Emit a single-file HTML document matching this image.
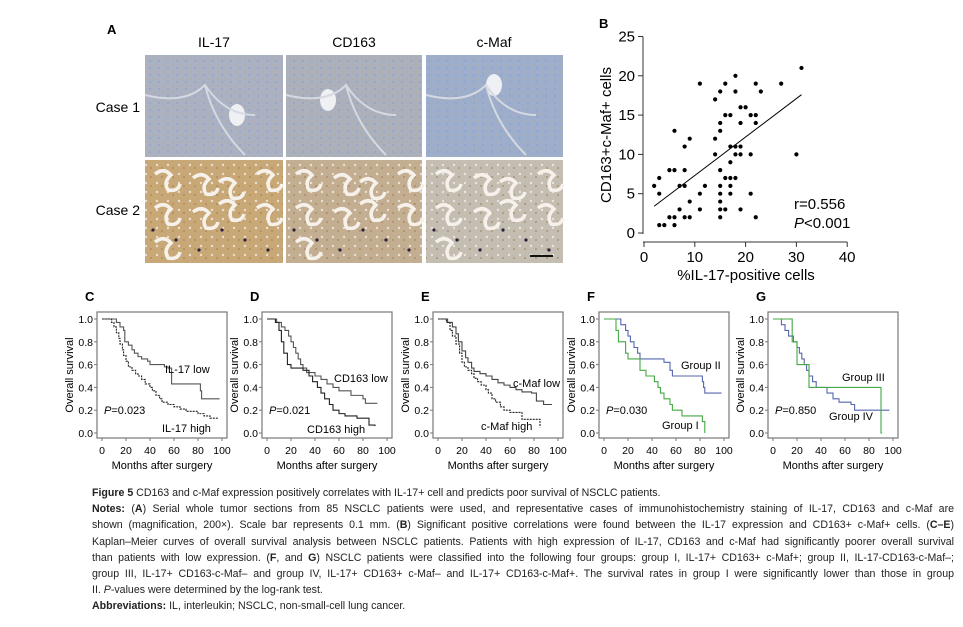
<!DOCTYPE html>
<html><head><meta charset="utf-8"><style>
body{margin:0;background:#fff;width:963px;height:627px;overflow:hidden;font-family:"Liberation Sans",Arial,sans-serif;}
#cap{position:absolute;left:92px;top:485px;width:862px;font-size:10.6px;line-height:16.2px;color:#222;}
#cap div{white-space:nowrap;}
#cap .j{text-align:justify;text-align-last:justify;}
</style></head><body>
<svg id="fig" width="963" height="627" style="position:absolute;left:0;top:0" font-family="Liberation Sans, Arial, sans-serif">
<defs>
<pattern id="pt1" width="9" height="7" patternUnits="userSpaceOnUse"><circle cx="2" cy="2" r="1" fill="#c2a88a" opacity="0.6"/><circle cx="6" cy="5" r="1" fill="#8d9bbb" opacity="0.6"/></pattern>
<pattern id="pt2" width="11" height="9" patternUnits="userSpaceOnUse"><circle cx="3" cy="3" r="1.2" fill="#f2ece2" opacity="0.8"/><circle cx="8" cy="6" r="1" fill="#9c7a4a" opacity="0.6"/></pattern>
</defs>
<g id="panelA">
<text x="107" y="34" font-size="13" font-weight="bold">A</text>
<text x="214" y="47" font-size="14" text-anchor="middle">IL-17</text>
<text x="354" y="47" font-size="14" text-anchor="middle">CD163</text>
<text x="494" y="47" font-size="14" text-anchor="middle">c-Maf</text>
<text x="140" y="112" font-size="14" text-anchor="end">Case 1</text>
<text x="140" y="215" font-size="14" text-anchor="end">Case 2</text>
</g>
<g id="B"></g>
<g id="KM"></g>
</svg>
<div id="cap">
<div><b>Figure 5</b> CD163 and c-Maf expression positively correlates with IL-17+ cell and predicts poor survival of NSCLC patients.</div>
<div class="j"><b>Notes:</b> (<b>A</b>) Serial whole tumor sections from 85 NSCLC patients were used, and representative cases of immunohistochemistry staining of IL-17, CD163 and c-Maf are</div>
<div class="j">shown (magnification, 200×). Scale bar represents 0.1 mm. (<b>B</b>) Significant positive correlations were found between the IL-17 expression and CD163+ c-Maf+ cells. (<b>C–E</b>)</div>
<div class="j">Kaplan–Meier curves of overall survival analysis between NSCLC patients. Patients with high expression of IL-17, CD163 and c-Maf had significantly poorer overall survival</div>
<div class="j">than patients with low expression. (<b>F</b>, and <b>G</b>) NSCLC patients were classified into the following four groups: group I, IL-17+ CD163+ c-Maf+; group II, IL-17-CD163-c-Maf–;</div>
<div class="j">group III, IL-17+ CD163-c-Maf– and group IV, IL-17+ CD163+ c-Maf– and IL-17+ CD163-c-Maf+. The survival rates in group I were significantly lower than those in group</div>
<div>II. <i>P</i>-values were determined by the log-rank test.</div>
<div><b>Abbreviations:</b> IL, interleukin; NSCLC, non-small-cell lung cancer.</div>
</div>
<script>
// ---- Panel B data ----
const ilPct=[2,3,3,3,4,5,6,5,6,6,6,7,7,8,8,8,8,9,9,9,11,11,11,12,14,14,14,15,15,15,15,15,15,15,15,15,16,16,16,16,17,17,17,17,17,17,18,18,18,18,18,19,19,19,19,19,20,21,21,21,22,22,22,22,23,27,30,31];
const cdMaf=[6,7,5,1,1,8,8,2,2,1,13,3,6,6,11,8,2,2,12,4,19,5,3,6,17,12,10,18,14,13,8,6,5,4,3,2,19,15,7,3,15,11,9,7,6,5,20,18,11,10,7,16,14,11,10,3,16,15,10,5,19,15,14,2,18,19,10,21];
const fitLine=[[2,3.4],[31,17.6]];
const bXTicks=[0,10,20,30,40];
const bYTicks=[0,5,10,15,20,25];
// ---- KM data ----
const cLowT=[0,12,15,18,19,22,25,27,30,33,38,40,52,55,58,82,83,98];
const cLowS=[1,.97,.93,.9,.8,.77,.73,.7,.67,.65,.63,.6,.58,.57,.43,.37,.3,.3];
const cHighT=[0,8,10,12,14,15,17,18,20,22,25,28,30,33,36,40,42,45,48,50,55,60,65,70,80,85,90,97];
const cHighS=[1,.97,.93,.88,.83,.78,.73,.68,.63,.58,.55,.52,.5,.47,.43,.4,.37,.33,.3,.27,.25,.23,.21,.19,.17,.15,.13,.13];
const dLowT=[0,8,12,15,18,20,22,24,26,28,30,33,40,45,50,55,60,70,80,82,92];
const dLowS=[1,.97,.93,.9,.85,.8,.75,.7,.65,.6,.57,.53,.5,.47,.43,.4,.37,.33,.3,.26,.26];
const dHighT=[0,7,10,12,14,17,20,30,35,38,42,45,48,52,55,60,65,75,85,90];
const dHighS=[1,.97,.9,.8,.7,.6,.57,.55,.5,.45,.4,.35,.3,.25,.2,.17,.15,.13,.07,.06];
const eLowT=[0,8,12,15,17,20,23,25,28,30,35,40,45,50,55,60,65,70,78,82,88,95];
const eLowS=[1,.97,.93,.87,.8,.72,.66,.62,.57,.54,.52,.5,.47,.44,.42,.4,.38,.36,.35,.28,.25,.25];
const eHighT=[0,7,10,12,15,18,20,22,25,28,30,33,36,40,42,45,48,52,55,60,70,82,85];
const eHighS=[1,.97,.9,.85,.78,.7,.62,.58,.55,.52,.48,.45,.42,.38,.35,.3,.27,.23,.2,.18,.12,.12,.05];
const fIIT=[0,12,14,18,20,22,25,28,30,50,55,57,80,82,83,84,98];
const fIIS=[1,1,.95,.9,.85,.8,.75,.7,.65,.62,.55,.5,.5,.45,.4,.35,.35];
const fIT=[0,8,10,12,18,20,30,35,42,45,47,50,55,57,65,82,84];
const fIS=[1,1,.9,.8,.7,.65,.55,.5,.45,.4,.35,.3,.25,.2,.15,.1,0];
const gIIIT=[0,16,20,30,90,91];
const gIIIS=[1,.8,.6,.4,0,0];
const gIVT=[0,5,7,10,13,17,20,22,24,26,28,30,33,36,45,50,55,65,68,97];
const gIVS=[1,1,.95,.9,.85,.8,.75,.7,.65,.6,.55,.5,.45,.4,.35,.3,.27,.25,.2,.2];
const kmXTicks=[0,20,40,60,80,100];
const kmYTicks=[0,0.2,0.4,0.6,0.8,1.0];

const NS='http://www.w3.org/2000/svg';
function mk(parent,tag,attrs,txt){const e=document.createElementNS(NS,tag);for(const k in attrs)e.setAttribute(k,attrs[k]);if(txt!==undefined)e.textContent=txt;parent.appendChild(e);return e;}

// ---- Panel A tiles ----
const A=document.getElementById('panelA');
const tileX=[145,286,426],tileW=[138,136,137],tileY=[55,160],tileH=[102,103];
const tileNames=['il17','cd163','cmaf'];
for(let r=0;r<2;r++)for(let c=0;c<3;c++){
  const base=r===0?['#a9b1c3','#abb0bd','#9caecb'][c]:['#c9a878','#c4ae92','#c4bdb2'][c];
  const t=mk(A,'rect',{x:tileX[c],y:tileY[r],width:tileW[c],height:tileH[r],fill:base});
  
  
  mk(A,'rect',{x:tileX[c],y:tileY[r],width:tileW[c],height:tileH[r],fill:r===0?'url(#pt1)':'url(#pt2)'});
  const x=tileX[c],y=tileY[r];
  if(r===1){for(let i=0;i<9;i++){const px=x+10+(i%4)*32+(i%2)*6,py=y+14+Math.floor(i/4)*30+(i%3)*4;
      mk(A,'path',{d:`M${px} ${py} q9 -7 16 1 q-8 7 -3 15 q10 2 12 -6`,stroke:'#f6f1ea','stroke-width':3.5,fill:'none'});}
    for(let i=0;i<6;i++)mk(A,'circle',{cx:x+8+i*23,cy:y+70+(i%3)*10,r:1.6,fill:'#2a2440'});}
  else{mk(A,'ellipse',{cx:x+[92,42,68][c],cy:y+[60,45,30][c],rx:8,ry:11,fill:'#eef0f3'});
    mk(A,'path',{d:`M${x} ${y+40} q40 10 60 -10 q20 30 50 30 M${x+60} ${y+30} q10 40 40 70`,stroke:'#d5d9e2','stroke-width':2,fill:'none'});}
}
mk(A,'line',{x1:530,y1:256,x2:553,y2:256,stroke:'#111','stroke-width':2});

// ---- Panel B ----
const B=document.getElementById('B');
const bx=v=>644+v*5.08, by=v=>233-v*7.86;
mk(B,'text',{x:599,y:28,'font-size':13,'font-weight':'bold'},'B');
const yAx=mk(B,'line',{x1:643,y1:by(25),x2:643,y2:by(0)+1,stroke:'#333'});

const xAx=mk(B,'line',{x1:643,y1:242,x2:bx(40),y2:242,stroke:'#333'});

bYTicks.forEach(v=>{mk(B,'line',{x1:638,y1:by(v),x2:643,y2:by(v),stroke:'#333'});
  const t=mk(B,'text',{x:635,y:by(v)+5,'font-size':15,'text-anchor':'end'},v);
  });
bXTicks.forEach(v=>{mk(B,'line',{x1:bx(v),y1:242,x2:bx(v),y2:247,stroke:'#333'});
  const t=mk(B,'text',{x:bx(v),y:262,'font-size':15,'text-anchor':'middle'},v);
  });
const xt=mk(B,'text',{x:746,y:280,'font-size':15,'text-anchor':'middle'},'%IL-17-positive cells');

const yt=mk(B,'text',{x:0,y:0,'font-size':15,'text-anchor':'middle',transform:'translate(611,135) rotate(-90)'},'CD163+c-Maf+ cells');

ilPct.forEach((v,i)=>{const d=mk(B,'circle',{cx:bx(v),cy:by(cdMaf[i]),r:2.1,fill:'#000'});
  });
const fl=mk(B,'line',{x1:bx(fitLine[0][0]),y1:by(fitLine[0][1]),x2:bx(fitLine[1][0]),y2:by(fitLine[1][1]),stroke:'#000','stroke-width':1});

const r1=mk(B,'text',{x:794,y:209,'font-size':15},'r=0.556');
const p1=mk(B,'text',{x:794,y:228,'font-size':15});
mk(p1,'tspan',{'font-style':'italic'},'P');mk(p1,'tspan',{},'<0.001');

// ---- KM panels ----
const KM=document.getElementById('KM');
const panels=[
 {L:'C',fx:97,series:[[cLowT,cLowS,'#555','il17-low'],[cHighT,cHighS,'#222','il17-high']],labels:[['IL-17 low',165,373],['IL-17 high',162,432]],p:'0.023',dash:[null,'2,1']},
 {L:'D',fx:262,series:[[dLowT,dLowS,'#555','cd163-low'],[dHighT,dHighS,'#222','cd163-high']],labels:[['CD163 low',334,382],['CD163 high',307,433]],p:'0.021',dash:[null,null]},
 {L:'E',fx:433,series:[[eLowT,eLowS,'#444','cmaf-low'],[eHighT,eHighS,'#222','cmaf-high']],labels:[['c-Maf low',513,387],['c-Maf high',481,430]],p:null,dash:[null,'2,1']},
 {L:'F',fx:599,series:[[fIIT,fIIS,'#5566b0','group-ii'],[fIT,fIS,'#44a844','group-i']],labels:[['Group II',681,369],['Group I',662,429]],p:'0.030',dash:[null,null]},
 {L:'G',fx:768,series:[[gIVT,gIVS,'#5566b0','group-iv'],[gIIIT,gIIIS,'#44a844','group-iii']],labels:[['Group III',842,381],['Group IV',829,420]],p:'0.850',dash:[null,null]}
];
panels.forEach(P=>{
  const g=mk(KM,'g',{});
  
  
  const x0=P.fx+5,xs=v=>x0+v*1.2,ys=v=>433-v*114;
  mk(g,'text',{x:P.fx-12,y:301,'font-size':13,'font-weight':'bold'},P.L);
  const fr=mk(g,'rect',{x:P.fx,y:312,width:130,height:126,fill:'none',stroke:'#777','stroke-width':1.2});
  
  kmYTicks.forEach(v=>{mk(g,'line',{x1:P.fx-3,y1:ys(v),x2:P.fx,y2:ys(v),stroke:'#777'});
    const t=mk(g,'text',{x:P.fx-4,y:ys(v)+4,'font-size':10.5,'text-anchor':'end'},v.toFixed(1));
    });
  kmXTicks.forEach(v=>{mk(g,'line',{x1:xs(v),y1:438,x2:xs(v),y2:441,stroke:'#777'});
    const t=mk(g,'text',{x:xs(v),y:454,'font-size':10.5,'text-anchor':'middle'},v);
    });
  const xl=mk(g,'text',{x:P.fx+65,y:469,'font-size':11,'text-anchor':'middle'},'Months after surgery');
  
  const yl=mk(g,'text',{x:0,y:0,'font-size':11,'text-anchor':'middle',transform:`translate(${P.fx-24},375) rotate(-90)`},'Overall survival');
  
  P.series.forEach((s,i)=>{const [T,S,col,nm]=s;let d=`M${xs(T[0])} ${ys(S[0])}`;
    for(let k=1;k<T.length;k++){d+=` H${xs(T[k])} V${ys(S[k])}`;}
    const a={d:d,fill:'none',stroke:col,'stroke-width':1.1};if(P.dash[i])a['stroke-dasharray']=P.dash[i];
    const p=mk(g,'path',a);});
  P.labels.forEach(l=>{const t=mk(g,'text',{x:l[1],y:l[2],'font-size':11},l[0]);
    });
  if(P.p){const t=mk(g,'text',{x:P.fx+7,y:414,'font-size':11});
    mk(t,'tspan',{'font-style':'italic'},'P');mk(t,'tspan',{},'='+P.p);}
});
</script>
</body></html>
